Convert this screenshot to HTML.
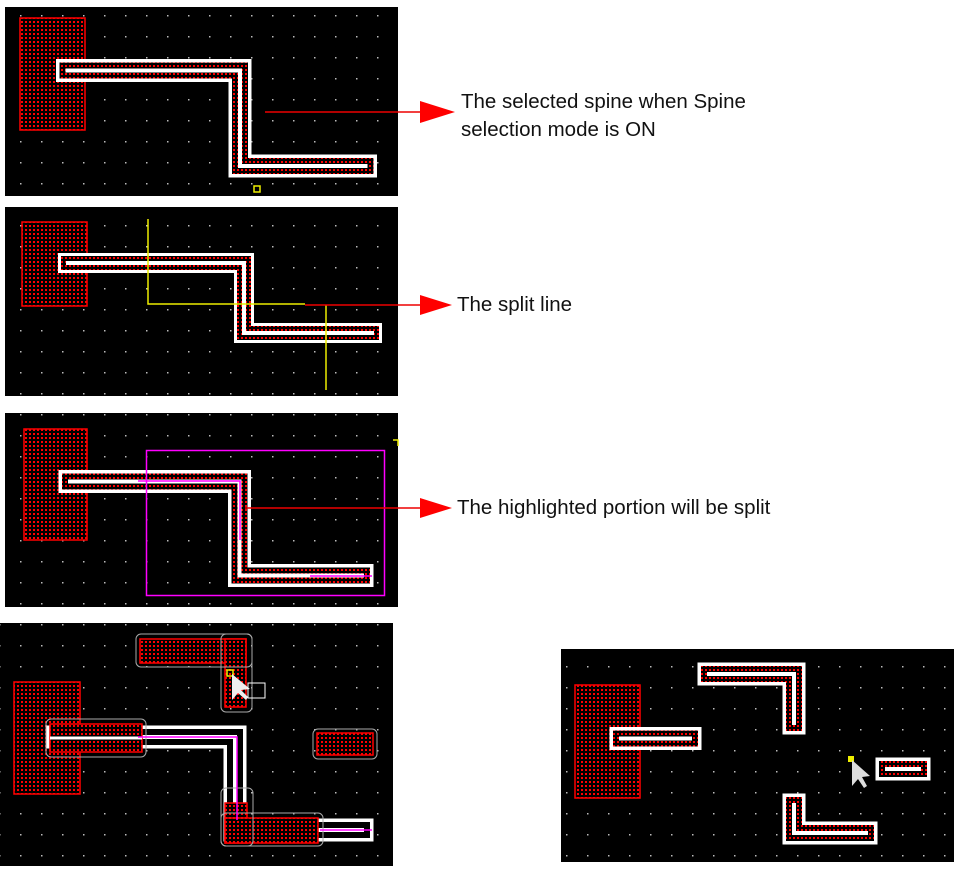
<!DOCTYPE html>
<html><head><meta charset="utf-8"><style>
html,body{margin:0;padding:0;background:#fff;}
svg{display:block;}
text{font-family:"Liberation Sans",Arial,sans-serif;font-size:20.5px;fill:#111;}
</style></head><body>
<svg width="963" height="871" viewBox="0 0 963 871" xmlns="http://www.w3.org/2000/svg">
<defs>
<pattern id="g" width="21" height="21" patternUnits="userSpaceOnUse" x="10" y="5">
<rect width="21" height="21" fill="#000"/><rect x="10" y="10" width="1.5" height="1.5" fill="#bbb"/>
</pattern>
<pattern id="rd" width="4" height="4" patternUnits="userSpaceOnUse">
<rect width="4" height="4" fill="#000"/><rect x="1" y="1" width="2" height="2" fill="#f00"/>
</pattern>
</defs>

<!-- Panel 1 -->
<rect x="5" y="7" width="393" height="189" fill="url(#g)"/>
<rect x="20" y="18" width="65" height="112" fill="url(#rd)" stroke="#f00" stroke-width="1.5"/>
<g fill="none" stroke-linecap="square" stroke-linejoin="miter">
<path d="M67.5 70.5 H240 V166 H365.5" stroke="#fff" stroke-width="23"/>
<path d="M67.5 70.5 H240 V166 H365.5" stroke="url(#rd)" stroke-width="16"/>
<path d="M67.5 70.5 H240 V166 H365.5" stroke="#fff" stroke-width="4"/>
</g>
<rect x="254" y="186" width="6" height="6" fill="none" stroke="#ee0" stroke-width="1.5"/>
<path d="M265 112 H425" stroke="#e00" stroke-width="1.5"/>
<polygon points="420,101 455,112 420,123" fill="#f00"/>
<text x="461" y="108">The selected spine when Spine</text>
<text x="461" y="136">selection mode is ON</text>

<!-- Panel 2 -->
<rect x="5" y="207" width="393" height="189" fill="url(#g)"/>
<rect x="22" y="222" width="65" height="84" fill="url(#rd)" stroke="#f00" stroke-width="1.5"/>
<g fill="none" stroke-linecap="square">
<path d="M68 263 H244 V333 H372" stroke="#fff" stroke-width="20"/>
<path d="M68 263 H244 V333 H372" stroke="url(#rd)" stroke-width="14"/>
<path d="M68 263 H244 V333 H372" stroke="#fff" stroke-width="4"/>
</g>
<path d="M148 219 V304 H305 M326 305 V390" stroke="#ee0" stroke-width="1.5" fill="none"/>
<path d="M305 305 H425" stroke="#e00" stroke-width="1.5"/>
<polygon points="420,295 452,305 420,315" fill="#f00"/>
<text x="457" y="311">The split line</text>

<!-- Panel 3 -->
<rect x="5" y="413" width="393" height="194" fill="url(#g)"/>
<rect x="24" y="429" width="63" height="111" fill="url(#rd)" stroke="#f00" stroke-width="1.5"/>
<g fill="none" stroke-linecap="square">
<path d="M70 481.5 H239.5 V575.5 H362" stroke="#fff" stroke-width="23"/>
<path d="M70 481.5 H239.5 V575.5 H362" stroke="url(#rd)" stroke-width="16"/>
<path d="M70 481.5 H239.5 V575.5 H362" stroke="#fff" stroke-width="4"/>
</g>
<rect x="146.5" y="450.5" width="238" height="145" fill="none" stroke="#f0f" stroke-width="1.5"/>
<path d="M138 481 H240 V540 M310 576 H372" stroke="#f0f" stroke-width="1.5" fill="none"/>
<path d="M393 440 h5 v6" stroke="#ee0" stroke-width="1.5" fill="none"/>
<path d="M245 508 H425" stroke="#e00" stroke-width="1.5"/>
<polygon points="420,498 452,508 420,518" fill="#f00"/>
<text x="457" y="514">The highlighted portion will be split</text>

<!-- Panel 4 -->
<rect x="0" y="623" width="393" height="243" fill="url(#g)"/>
<rect x="14" y="682" width="66" height="112" fill="url(#rd)" stroke="#f00" stroke-width="1.5"/>
<g fill="none" stroke-linecap="square">
<path d="M58 737 H235 V830 H362" stroke="#fff" stroke-width="23"/>
<path d="M58 737 H235 V830 H362" stroke="#000" stroke-width="16"/>
<path d="M58 737 H235 V830 H362" stroke="#fff" stroke-width="4"/>
</g>
<rect x="50" y="724" width="92" height="28" fill="url(#rd)" stroke="#f00" stroke-width="1.5"/>
<path d="M50 738 H142" stroke="#fff" stroke-width="3"/>
<rect x="46" y="719" width="100" height="38" rx="5" fill="none" stroke="#aaa" stroke-width="1"/>
<rect x="225" y="803" width="22" height="40" fill="url(#rd)" stroke="#f00" stroke-width="1.5"/>
<rect x="225" y="818" width="93" height="25" fill="url(#rd)" stroke="#f00" stroke-width="1.5"/>
<rect x="221" y="788" width="32" height="58" rx="5" fill="none" stroke="#aaa"/>
<rect x="221" y="813" width="102" height="33" rx="5" fill="none" stroke="#aaa"/>
<path d="M138 737 H237 V820 M320 830 H372" stroke="#f0f" stroke-width="1.5" fill="none"/>
<rect x="140" y="639" width="106" height="24" fill="url(#rd)" stroke="#f00" stroke-width="1.5"/>
<rect x="225" y="639" width="21" height="68" fill="url(#rd)" stroke="#f00" stroke-width="1.5"/>
<rect x="136" y="634" width="116" height="33" rx="5" fill="none" stroke="#aaa"/>
<rect x="221" y="634" width="31" height="78" rx="5" fill="none" stroke="#aaa"/>
<rect x="317" y="733" width="56" height="22" fill="url(#rd)" stroke="#f00" stroke-width="1.5"/>
<rect x="313" y="729" width="64" height="30" rx="5" fill="none" stroke="#aaa"/>
<rect x="227" y="670" width="6" height="6" fill="none" stroke="#ee0" stroke-width="1.5"/>
<polygon points="232,674 232,700 238,693 246,700 248,697 241,690 250,689" fill="#eee"/>
<rect x="248" y="683" width="17" height="15" fill="none" stroke="#fff" stroke-width="1"/>

<!-- Panel 5 -->
<rect x="561" y="649" width="393" height="213" fill="url(#g)"/>
<rect x="575" y="685" width="65" height="113" fill="url(#rd)" stroke="#f00" stroke-width="1.5"/>
<g fill="none" stroke-linecap="square">
<path d="M621 738.5 H690 M709 674 H794 V723 M794 805 V833 H866 M887 769 H919" stroke="#fff" stroke-width="23"/>
<path d="M621 738.5 H690 M709 674 H794 V723 M794 805 V833 H866 M887 769 H919" stroke="url(#rd)" stroke-width="16"/>
<path d="M621 738.5 H690 M709 674 H794 V723 M794 805 V833 H866 M887 769 H919" stroke="#fff" stroke-width="4"/>
</g>
<rect x="848" y="756" width="6" height="6" fill="#ee0"/>
<polygon points="852,760 852,786 858,779 864,788 867,786 862,777 870,776" fill="#ddd"/>
</svg>
</body></html>
